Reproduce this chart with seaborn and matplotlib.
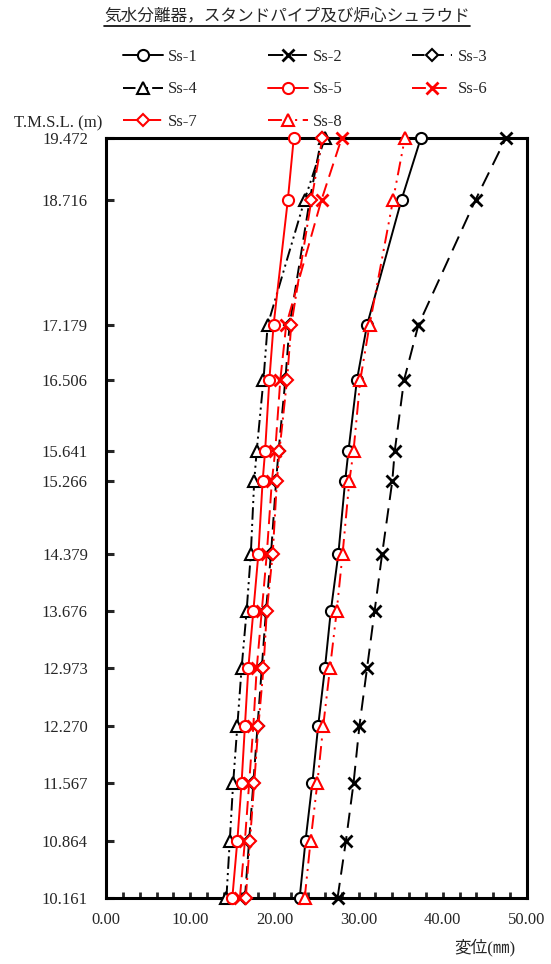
import matplotlib
matplotlib.use('Agg')
import matplotlib.pyplot as plt
import seaborn as sns
import numpy as np
from matplotlib.lines import Line2D

sns.set_style('ticks')
plt.rcParams['font.family'] = ['Liberation Serif', 'Noto Sans CJK JP']
plt.rcParams['lines.scale_dashes'] = False

# 標高 (T.M.S.L., m)
levels = [19.472, 18.716, 17.179, 16.506, 15.641, 15.266, 14.379,
          13.676, 12.973, 12.270, 11.567, 10.864, 10.161]

# 変位 (mm)
ss1 = [37.4, 35.1, 31.0, 29.8, 28.8, 28.4, 27.6, 26.7, 26.0, 25.2, 24.5, 23.7, 23.0]
ss2 = [47.5, 43.9, 37.1, 35.4, 34.3, 34.0, 32.8, 31.9, 31.0, 30.1, 29.4, 28.5, 27.5]
ss3 = [25.6, 24.2, 21.8, 21.3, 20.5, 20.2, 19.6, 19.0, 18.5, 18.0, 17.5, 17.0, 16.5]
ss4 = [26.0, 23.6, 19.2, 18.7, 17.9, 17.6, 17.2, 16.7, 16.1, 15.6, 15.1, 14.7, 14.3]
ss5 = [22.3, 21.6, 19.9, 19.4, 18.9, 18.6, 18.1, 17.5, 16.9, 16.5, 16.1, 15.6, 15.0]
ss6 = [28.0, 25.6, 21.4, 20.7, 20.1, 19.7, 19.1, 18.5, 17.9, 17.5, 17.0, 16.5, 15.9]
ss7 = [25.7, 24.4, 22.0, 21.5, 20.6, 20.3, 19.8, 19.1, 18.7, 18.1, 17.6, 17.1, 16.6]
ss8 = [35.5, 34.1, 31.3, 30.2, 29.4, 28.9, 28.1, 27.4, 26.6, 25.8, 25.1, 24.3, 23.6]

names = ['Ss-1', 'Ss-2', 'Ss-3', 'Ss-4', 'Ss-5', 'Ss-6', 'Ss-7', 'Ss-8']
series = [ss1, ss2, ss3, ss4, ss5, ss6, ss7, ss8]
colors = ['black', 'black', 'black', 'black', 'red', 'red', 'red', 'red']
markers = ['o', 'x', 'D', '^', 'o', 'x', 'D', '^']
styles = ['-', (0, (11, 6)), (0, (9, 5)), (0, (9, 3, 1.5, 3, 1.5, 3)),
          '-', (0, (10, 5)), (0, (10, 3, 1.5, 3)), (0, (10, 4, 1.5, 4, 1.5, 4))]

fig = plt.figure(figsize=(5.51, 9.64), dpi=100)
ax = fig.add_axes([0.1924, 0.0685, 0.764, 0.7884])

for name, vals, c, m, ls in zip(names, series, colors, markers, styles):
    ms = 6.5 if m == 'D' else 8
    mew = 2.0 if m == 'x' else 1.5
    sns.lineplot(x=vals, y=levels, orient='y', ax=ax, estimator=None, errorbar=None,
                 color=c, marker=m, linestyle=ls, linewidth=1.4, ms=ms,
                 markerfacecolor='white', markeredgecolor=c, markeredgewidth=mew,
                 label=name, clip_on=False, zorder=3)

if ax.get_legend() is not None:
    ax.get_legend().remove()

ax.set_xlim(0, 50)
ax.set_ylim(10.161, 19.472)
ax.set_xticks(np.arange(0, 51, 10))
ax.set_xticklabels(['%.2f' % v for v in np.arange(0, 51, 10)])
ax.set_xticks(np.arange(0, 51, 2), minor=True)
ax.set_yticks(levels)
ax.set_yticklabels(['%.3f' % v for v in levels])
ax.set_xlabel('')
ax.set_ylabel('')

for sp in ax.spines.values():
    sp.set_linewidth(2.2)
    sp.set_color('black')
    sp.set_visible(True)

ax.tick_params(axis='y', direction='in', length=6, width=2.2, pad=13,
               labelsize=12, left=True, right=False)
ax.tick_params(axis='x', which='both', direction='in', length=4, width=2, pad=10,
               labelsize=12, bottom=True, top=False)

# 凡例 (行方向に並べる)
handles, labels = ax.get_legend_handles_labels()
order = [0, 3, 6, 1, 4, 7, 2, 5]
fig.legend([handles[i] for i in order], [labels[i] for i in order],
           ncol=3, loc='upper left', bbox_to_anchor=(0.2232, 0.9495),
           frameon=False, fontsize=12, handlelength=2.4, handletextpad=0.3,
           columnspacing=4.2, labelspacing=1.0, borderaxespad=0, borderpad=0)

fig.text(14 / 551, 1 - 123 / 964, 'T.M.S.L. (m)', fontsize=12, ha='left', va='center')
fig.text(485 / 551, 1 - 948 / 964, '変位(㎜)', fontsize=12, ha='center', va='center')

title = fig.text(0.521, 1 - 16 / 964, '気水分離器，スタンドパイプ及び炉心シュラウド',
                 fontsize=12, ha='center', va='center', family=['Noto Sans CJK JP'])

fig.canvas.draw()
bb = title.get_window_extent()
inv = fig.transFigure.inverted()
(x0, y0), (x1, _) = inv.transform([(bb.x0, bb.y0 - 1), (bb.x1, bb.y0)])
fig.add_artist(Line2D([x0, x1], [y0, y0], transform=fig.transFigure,
                      color='black', linewidth=1.2))

fig.savefig('out.png', dpi=100)
